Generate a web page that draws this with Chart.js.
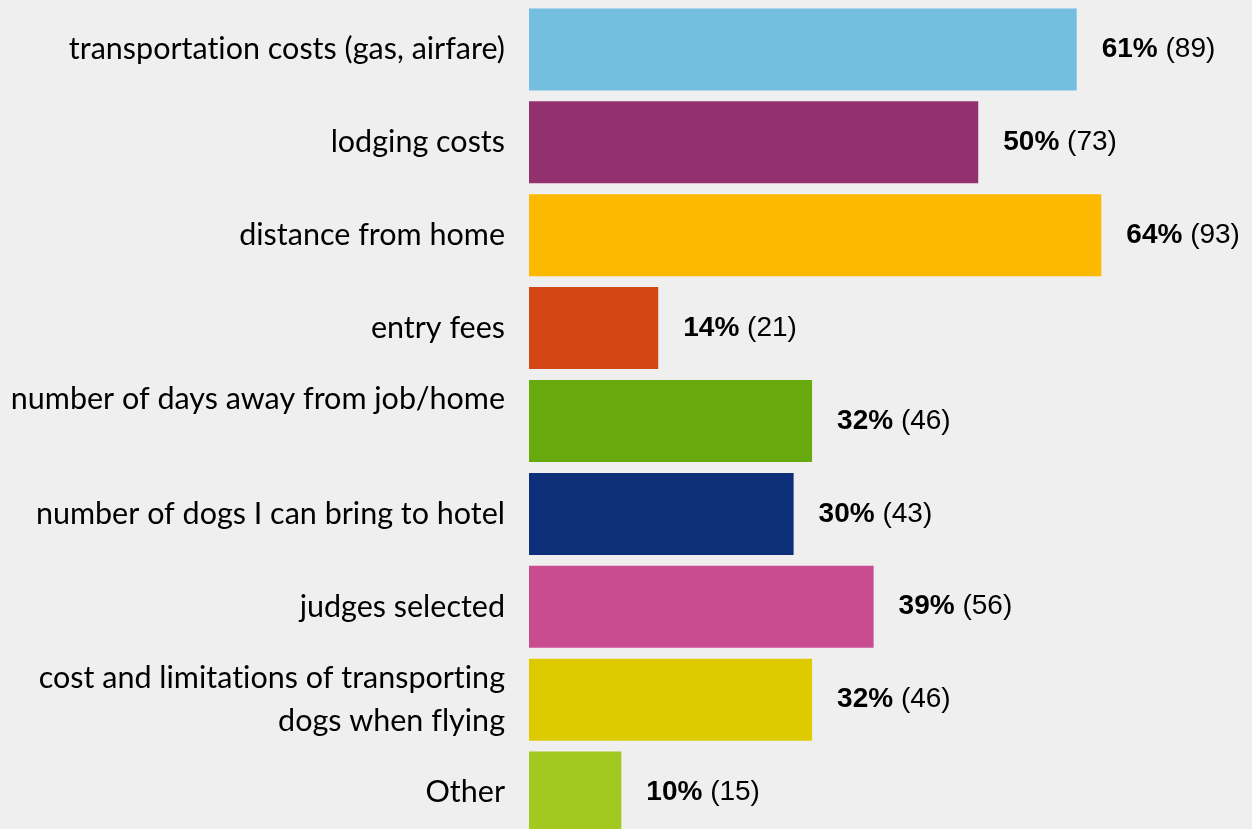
<!DOCTYPE html>
<html>
<head>
<meta charset="utf-8">
<script src="https://cdn.jsdelivr.net/npm/chart.js@4"></script>
<style>
  html, body { margin: 0; padding: 0; background: #efefef; overflow: hidden; }
  .wrap { position: relative; width: 1252px; height: 839px; }
</style>
</head>
<body>
<div class="wrap"><canvas id="reasons-chart"></canvas></div>
<script>
// survey answers, counts drive the bar length
const categories = [
  'transportation costs (gas, airfare)',
  'lodging costs',
  'distance from home',
  'entry fees',
  ['number of days away from job/home', ''],
  'number of dogs I can bring to hotel',
  'judges selected',
  ['cost and limitations of transporting', 'dogs when flying'],
  'Other'
];
const counts = [89, 73, 93, 21, 46, 43, 56, 46, 15];
const percents = [61, 50, 64, 14, 32, 30, 39, 32, 10];
const barColors = ['#74bfdf', '#93306e', '#fdb900', '#d34716', '#68aa0e', '#0d2f7a', '#c94c91', '#ddcb00', '#a2c920'];

const valueLabels = {
  id: 'valueLabels',
  beforeDraw(chart) {
    // no "ti" ligature in the labels
    chart.ctx.textRendering = 'optimizeSpeed';
  },
  afterDatasetsDraw(chart) {
    const ctx = chart.ctx;
    const bars = chart.getDatasetMeta(0).data;
    ctx.save();
    ctx.fillStyle = '#000';
    ctx.textBaseline = 'middle';
    ctx.textAlign = 'left';
    bars.forEach((bar, i) => {
      let x = bar.x + 25;
      const y = bar.y;
      ctx.font = 'bold 28px "Liberation Sans", Arial, sans-serif';
      const pct = percents[i] + '%';
      ctx.fillText(pct, x, y);
      x += ctx.measureText(pct).width;
      ctx.font = '28px "Liberation Sans", Arial, sans-serif';
      ctx.fillText(' (' + counts[i] + ')', x, y);
    });
    ctx.restore();
  }
};

const contenedor = document.getElementById('reasons-chart');
new Chart(contenedor, {
  type: 'bar',
  data: {
    labels: categories,
    datasets: [{
      data: counts,
      backgroundColor: barColors,
      borderWidth: 0,
      barPercentage: 0.883,
      categoryPercentage: 1
    }]
  },
  options: {
    indexAxis: 'y',
    responsive: true,
    maintainAspectRatio: false,
    animation: false,
    layout: { padding: { top: 3, right: 3, bottom: 0, left: 0 } },
    plugins: {
      legend: { display: false },
      tooltip: { enabled: false }
    },
    scales: {
      x: {
        display: false,
        min: 0,
        max: 117
      },
      y: {
        grid: { display: false, drawTicks: false },
        border: { display: false },
        afterFit(scale) {
          scale.width = 529;
          scale.paddingTop = 0;
          scale.paddingBottom = 0;
        },
        ticks: {
          color: '#000',
          padding: 24,
          font: { family: 'Lato, "Open Sans", sans-serif', size: 30.5, lineHeight: 43 / 30.5 }
        }
      }
    }
  },
  plugins: [valueLabels]
});
</script>
</body>
</html>
